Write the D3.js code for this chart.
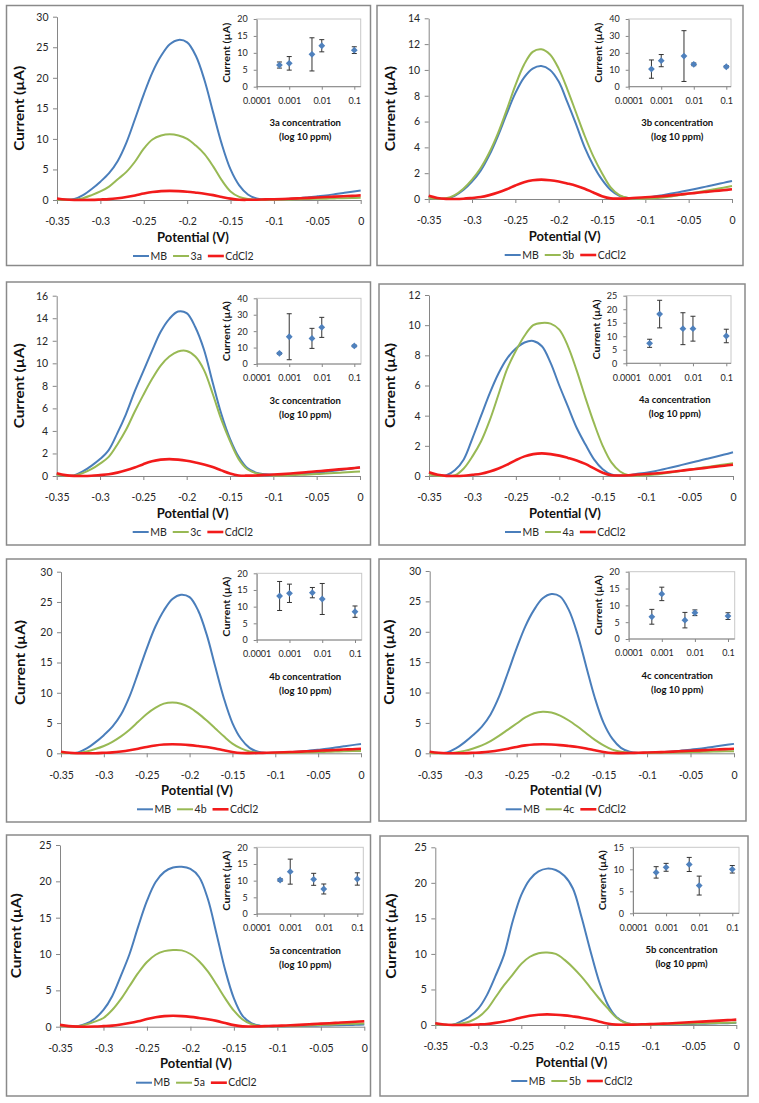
<!DOCTYPE html>
<html><head><meta charset="utf-8">
<script src="https://cdn.jsdelivr.net/npm/d3@7"></script>
<style>
body{margin:0;background:#fff;}
svg{display:block;font-family:Lato,"Open Sans",sans-serif;}
</style></head><body>
<svg id="chart" width="759" height="1103"></svg>
<script>
// ---------- DATA ----------
const potential = [-0.35,-0.34,-0.33,-0.32,-0.31,-0.3,-0.29,-0.28,-0.27,-0.26,-0.25,-0.24,-0.23,-0.22,-0.21,-0.2,-0.19,-0.18,-0.17,-0.16,-0.15,-0.14,-0.13,-0.12,-0.11,-0.1,-0.09,-0.08,-0.07,-0.06,-0.05,-0.04,-0.03,-0.02,-0.01,0];
const xTickValues = [-0.35,-0.3,-0.25,-0.2,-0.15,-0.1,-0.05,0];

const cdcl2 = [0.25,0.08,0.01,0.0,0.02,0.08,0.15,0.3,0.5,0.75,1.05,1.3,1.45,1.5,1.45,1.35,1.2,1.03,0.8,0.5,0.22,0.05,0.03,0.05,0.1,0.13,0.17,0.22,0.28,0.35,0.42,0.48,0.55,0.62,0.68,0.75];
const mbA  = [0.2,0.05,0.15,0.8,1.8,3.0,4.4,6.4,9.4,13.3,17.3,20.9,23.6,25.5,26.2,25.8,23.6,19.6,14.3,9.1,5.0,2.4,0.9,0.25,0.06,0.1,0.15,0.2,0.3,0.45,0.6,0.75,0.95,1.15,1.35,1.55];
const s3a  = [0.1,0.05,0.05,0.3,0.8,1.4,2.2,3.4,4.6,6.3,8.4,9.9,10.55,10.75,10.55,10.0,8.9,7.5,5.5,3.2,1.4,0.5,0.15,0.05,0.03,0.05,0.07,0.1,0.13,0.16,0.19,0.22,0.26,0.29,0.32,0.35];
const mb3b = [0.15,0.05,0.02,0.25,0.7,1.35,2.2,3.4,4.9,6.6,8.2,9.4,10.1,10.3,10.0,9.1,7.5,5.8,4.0,2.6,1.5,0.7,0.25,0.08,0.05,0.1,0.2,0.3,0.42,0.55,0.68,0.82,0.96,1.1,1.25,1.4];
const s3b  = [0.1,0.03,0.05,0.3,0.8,1.5,2.4,3.6,5.1,6.9,8.8,10.4,11.4,11.6,11.2,10.1,8.5,6.7,4.9,3.3,2.0,0.9,0.3,0.08,0.03,0.03,0.06,0.12,0.2,0.3,0.4,0.52,0.64,0.76,0.88,1.0];
const mb3c = [0.15,0.03,0.05,0.4,0.9,1.5,2.3,3.8,5.5,7.5,9.3,11.1,12.8,13.95,14.6,14.45,13.2,11.2,8.3,5.5,3.3,1.7,0.7,0.3,0.15,0.1,0.12,0.15,0.2,0.25,0.3,0.38,0.46,0.56,0.66,0.77];
const s3c  = [0.1,0.03,0.03,0.25,0.6,1.1,1.7,2.8,4.1,5.7,7.2,8.6,9.8,10.6,11.05,11.1,10.6,9.4,7.3,5.0,3.1,1.5,0.6,0.25,0.1,0.05,0.05,0.07,0.1,0.13,0.17,0.22,0.26,0.31,0.35,0.4];
const mb4a = [0.2,0.03,0.05,0.4,1.1,2.5,4.0,5.5,6.8,7.8,8.45,8.85,8.95,8.6,7.5,6.0,4.6,3.2,2.1,1.1,0.45,0.1,0.03,0.05,0.15,0.22,0.32,0.45,0.58,0.72,0.86,1.0,1.14,1.28,1.42,1.57];
const s4a  = [0.1,0.02,0.0,0.05,0.5,1.3,2.3,3.7,5.4,7.1,8.3,9.3,10.0,10.15,10.1,9.7,8.6,7.0,5.2,3.5,2.0,0.9,0.3,0.05,0.03,0.05,0.1,0.17,0.25,0.33,0.42,0.51,0.6,0.68,0.77,0.85];
const s4b  = [0.1,0.03,0.05,0.3,0.7,1.2,1.9,2.8,3.9,5.2,6.5,7.5,8.2,8.4,8.2,7.6,6.6,5.4,4.1,2.8,1.6,0.8,0.3,0.1,0.05,0.05,0.07,0.1,0.13,0.17,0.2,0.24,0.28,0.32,0.36,0.4];
const s4c  = [0.05,0.02,0.03,0.15,0.4,0.8,1.3,2.0,2.9,3.9,4.9,5.9,6.6,6.85,6.7,6.2,5.4,4.4,3.3,2.2,1.3,0.6,0.25,0.1,0.05,0.05,0.07,0.1,0.13,0.16,0.19,0.22,0.26,0.29,0.32,0.35];
const mb5a = [0.2,0.05,0.05,0.4,1.1,2.3,4.2,7.0,10.0,13.8,17.3,19.9,21.3,21.9,22.0,21.7,20.6,17.6,12.8,7.8,3.9,1.5,0.5,0.15,0.05,0.05,0.06,0.08,0.1,0.12,0.15,0.17,0.2,0.23,0.26,0.3];
const s5a  = [0.1,0.03,0.05,0.3,0.7,1.2,2.3,3.8,5.6,7.4,8.9,9.9,10.4,10.55,10.5,10.0,9.0,7.6,5.8,3.9,2.2,1.0,0.35,0.1,0.05,0.05,0.08,0.12,0.16,0.2,0.24,0.28,0.33,0.37,0.41,0.45];
const mb5b = [0.2,0.05,0.02,0.5,1.2,2.3,4.2,6.9,9.9,14.6,18.3,20.5,21.6,22.0,21.8,21.0,19.2,15.2,10.6,6.3,3.0,1.2,0.4,0.1,0.05,0.05,0.06,0.08,0.1,0.12,0.15,0.17,0.2,0.23,0.26,0.3];
const s5b  = [0.1,0.03,0.03,0.2,0.5,1.1,2.2,3.9,5.6,7.1,8.6,9.6,10.1,10.2,10.0,9.2,8.1,6.8,5.3,3.8,2.4,1.1,0.35,0.08,0.04,0.05,0.07,0.1,0.13,0.17,0.2,0.23,0.26,0.29,0.32,0.35];

// inset data: concentration (ppm, log axis), mean current and error
const concentrations = [0.0005,0.001,0.005,0.01,0.1];
const insetXTicks = [0.0001,0.001,0.01,0.1];
const in3a = [6.4,6.9,9.55,12.1,10.8],   er3a = [0.9,2.0,4.9,1.8,1.0];
const in3b = [10.4,15.4,18.1,13.2,11.8], er3b = [5.4,3.6,15.0,0.8,0.6];
const in3c = [6.5,16.6,15.6,22.3,11.0],  er3c = [0.5,14.0,6.1,6.1,0.5];
const in4a = [7.4,18.2,12.8,12.8,10.1],  er4a = [1.5,5.1,5.9,4.6,2.5];
const in4b = [13.2,14.0,14.2,12.3,8.5],  er4b = [4.35,2.75,1.55,4.65,1.7];
const in4c = [6.6,13.4,5.6,7.8,6.8],     er4c = [2.2,2.0,2.3,0.85,1.0];
const in5a = [10.2,12.7,10.4,7.5,10.5],  er5a = [0.4,3.75,1.8,1.5,1.85];
const in5b = [9.3,10.45,11.1,6.3,10.0],  er5b = [1.3,0.9,1.6,2.15,0.85];

// tick label sets
const yT30 = [0,5,10,15,20,25,30], yT25 = [0,5,10,15,20,25], yT20 = [0,5,10,15,20], yT15=[0,5,10,15];
const yT14 = [0,2,4,6,8,10,12,14], yT16 = [0,2,4,6,8,10,12,14,16], yT12 = [0,2,4,6,8,10,12];
const yT40 = [0,10,20,30,40];

const panels = [
  {id:"3a", mb:mbA,  cmp:s3a, yTicks:yT30, ins:in3a, err:er3a, insTicks:yT20},
  {id:"3b", mb:mb3b, cmp:s3b, yTicks:yT14, ins:in3b, err:er3b, insTicks:yT40},
  {id:"3c", mb:mb3c, cmp:s3c, yTicks:yT16, ins:in3c, err:er3c, insTicks:yT40},
  {id:"4a", mb:mb4a, cmp:s4a, yTicks:yT12, ins:in4a, err:er4a, insTicks:yT25},
  {id:"4b", mb:mbA,  cmp:s4b, yTicks:yT30, ins:in4b, err:er4b, insTicks:yT20},
  {id:"4c", mb:mbA,  cmp:s4c, yTicks:yT30, ins:in4c, err:er4c, insTicks:yT20},
  {id:"5a", mb:mb5a, cmp:s5a, yTicks:yT25, ins:in5a, err:er5a, insTicks:yT20},
  {id:"5b", mb:mb5b, cmp:s5b, yTicks:yT25, ins:in5b, err:er5b, insTicks:yT15}
];

// ---------- LAYOUT ----------
const layout = [
  {box:[6.5,5.5,364,260], plot:[57,16.7,360.7,200],     ins:[256.7,354.3,360.7,19,86.7],    ylab:20},
  {box:[377,5.5,366,260], plot:[428.7,18.3,732,199],    ins:[628.7,726.3,731,19,86.7],      ylab:390.5},
  {box:[6.5,282,364,263], plot:[56.7,295.7,360,476],    ins:[256.7,354.3,361,298.3,364],    ylab:20},
  {box:[379,284,366,261], plot:[429,295,733,476],       ins:[626.3,726.3,731,295.7,363.3],  ylab:390.5},
  {box:[6.5,559,364,263], plot:[61,571.7,361,753.3],    ins:[256.7,355,361.7,573.3,640],    ylab:20.5},
  {box:[379,559,367,262], plot:[429.7,571,734,753.3],   ins:[628.7,728,734.7,571.7,639],    ylab:390},
  {box:[6.5,835,364,261], plot:[60,845,364.3,1026.7],   ins:[256.7,357.3,363.3,847.3,914],  ylab:17},
  {box:[380,836,368,260], plot:[435.3,847.3,736.3,1025],ins:[633,732.3,739,847.3,913.3],    ylab:392}
];

const colors = {mb:"#4A7EBB", cmp:"#98B954", cd:"#F21B1B"};
const axisCol = "#868686", textCol = "#262626";

const svg = d3.select("#chart");

panels.forEach((p, i) => {
  const L = layout[i];
  const g = svg.append("g");
  g.append("rect").attr("x",L.box[0]).attr("y",L.box[1]).attr("width",L.box[2]).attr("height",L.box[3])
    .attr("fill","#fff").attr("stroke","#8a8a8a").attr("stroke-width",1.5);

  const [pl, pt, pr, pb] = L.plot;
  const x = d3.scaleLinear().domain([-0.35,0]).range([pl,pr]);
  const y = d3.scaleLinear().domain([0, d3.max(p.yTicks)]).range([pb,pt]);

  // axes
  const ya = g.append("g").attr("transform",`translate(${pl},0)`)
    .call(d3.axisLeft(y).tickValues(p.yTicks).tickFormat(String).tickSize(4).tickSizeOuter(0).tickPadding(4.5));
  const xa = g.append("g").attr("transform",`translate(0,${pb})`)
    .call(d3.axisBottom(x).tickValues(xTickValues).tickFormat(String).tickSize(4).tickSizeOuter(0).tickPadding(14));
  [ya, xa].forEach(a => {
    a.select(".domain").attr("stroke",axisCol);
    a.selectAll(".tick line").attr("stroke",axisCol);
    a.selectAll("text").attr("fill",textCol).style("font-size","10.5px").style("font-family","Lato");
  });

  // lines
  const line = d3.line().x((d,k)=>x(potential[k])).y(d=>y(d)).curve(d3.curveCatmullRom.alpha(0.5));
  g.append("path").datum(p.mb).attr("d",line).attr("fill","none").attr("stroke",colors.mb).attr("stroke-width",2);
  g.append("path").datum(p.cmp).attr("d",line).attr("fill","none").attr("stroke",colors.cmp).attr("stroke-width",2);
  g.append("path").datum(cdcl2).attr("d",line).attr("fill","none").attr("stroke",colors.cd).attr("stroke-width",2.6);

  // titles
  g.append("text").attr("x",pl+136).attr("y",pb+37).attr("dy","0.35em").attr("text-anchor","middle")
    .style("font-size","13px").style("font-weight","bold").attr("fill","#111").text("Potential (V)");
  g.append("text").attr("transform",`translate(${L.ylab},${(pt+pb)/2}) rotate(-90)`).attr("dy","0.35em")
    .attr("text-anchor","middle").attr("textLength",85).attr("lengthAdjust","spacingAndGlyphs")
    .style("font-size","12.5px").style("font-weight","bold").attr("fill","#111").text("Current (µA)");

  // legend
  const leg = g.append("g").attr("transform",`translate(${pl+76},${pb+56})`);
  let cx = 0;
  const items = [["MB",colors.mb,2],[p.id,colors.cmp,2],["CdCl2",colors.cd,2.6]];
  items.forEach(([name,col,w]) => {
    leg.append("line").attr("x1",cx).attr("x2",cx+16).attr("y1",0).attr("y2",0).attr("stroke",col).attr("stroke-width",w);
    const t = leg.append("text").attr("x",cx+17.5).attr("y",0).attr("dy","0.35em")
      .style("font-size","10.5px").attr("fill",textCol).text(name);
    cx += 17.5 + t.node().getComputedTextLength() + 6;
  });

  // inset
  const [ix0, ix1, ir, it, ib] = L.ins;
  const ix = d3.scaleLog().domain([0.0001,0.1]).range([ix0,ix1]);
  const iy = d3.scaleLinear().domain([0,d3.max(p.insTicks)]).range([ib,it]);
  g.append("rect").attr("x",ix0).attr("y",it).attr("width",ir-ix0).attr("height",ib-it)
    .attr("fill","none").attr("stroke","#c8c8c8").attr("stroke-width",1);
  const iya = g.append("g").attr("transform",`translate(${ix0},0)`)
    .call(d3.axisLeft(iy).tickValues(p.insTicks).tickFormat(String).tickSize(3).tickSizeOuter(0).tickPadding(6));
  const ixa = g.append("g").attr("transform",`translate(0,${ib})`)
    .call(d3.axisBottom(ix).tickValues(insetXTicks).tickFormat(String).tickSize(3).tickSizeOuter(0).tickPadding(8));
  ixa.select(".domain").attr("d",`M${ix0},0H${ir}`);
  [iya, ixa].forEach(a => {
    a.select(".domain").attr("stroke",axisCol);
    a.selectAll(".tick line").attr("stroke",axisCol);
    a.selectAll("text").attr("fill",textCol).style("font-size","9px").style("font-family","Lato");
  });
  g.append("text").attr("transform",`translate(${ix0-30},${(it+ib)/2}) rotate(-90)`).attr("dy","0.35em")
    .attr("text-anchor","middle").attr("textLength",60).attr("lengthAdjust","spacingAndGlyphs")
    .style("font-size","9.5px").style("font-weight","bold").attr("fill","#111").text("Current (µA)");
  g.append("text").attr("x",ix0+48.5).attr("y",ib+36.3).attr("dy","0.35em").attr("text-anchor","middle")
    .style("font-size","9.5px").style("font-weight","bold").attr("fill","#111").text(p.id + " concentration");
  g.append("text").attr("x",ix0+48.5).attr("y",ib+50.3).attr("dy","0.35em").attr("text-anchor","middle")
    .style("font-size","9.5px").style("font-weight","bold").attr("fill","#111").text("(log 10 ppm)");

  const pts = concentrations.map((c,k)=>({c, v:p.ins[k], e:p.err[k]}));
  const eb = g.append("g").attr("stroke","#333").attr("stroke-width",1);
  pts.forEach(d => {
    const cxp = ix(d.c);
    eb.append("line").attr("x1",cxp).attr("x2",cxp).attr("y1",iy(d.v-d.e)).attr("y2",iy(d.v+d.e));
    eb.append("line").attr("x1",cxp-2.5).attr("x2",cxp+2.5).attr("y1",iy(d.v-d.e)).attr("y2",iy(d.v-d.e));
    eb.append("line").attr("x1",cxp-2.5).attr("x2",cxp+2.5).attr("y1",iy(d.v+d.e)).attr("y2",iy(d.v+d.e));
  });
  g.append("g").selectAll("path").data(pts).join("path")
    .attr("transform",d=>`translate(${ix(d.c)},${iy(d.v)})`)
    .attr("d","M0,-3.4L3.4,0L0,3.4L-3.4,0Z").attr("fill","#4F81BD");
});
</script>
</body></html>
